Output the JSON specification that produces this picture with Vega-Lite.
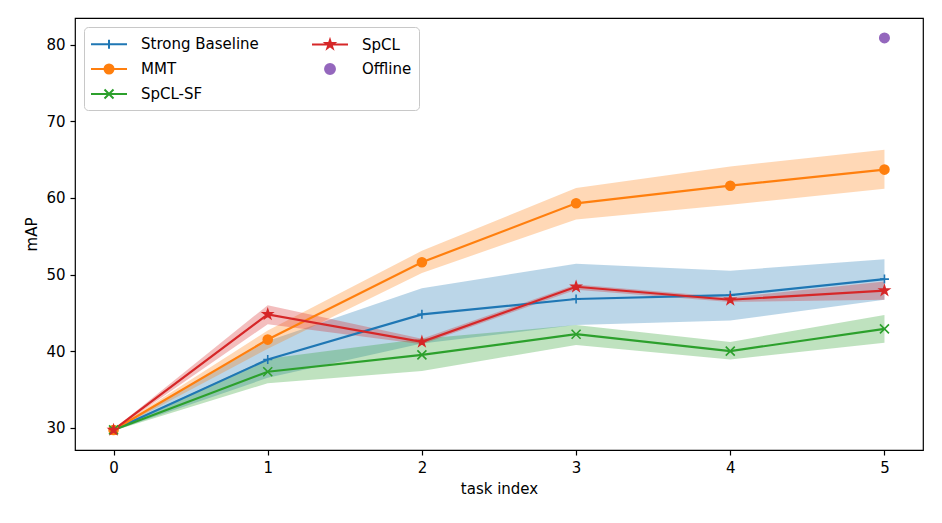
{
  "$schema": "https://vega.github.io/schema/vega-lite/v6.json",
  "autosize": {"type": "none"},
  "padding": {"left": 75, "top": 18, "right": 19, "bottom": 73},
  "width": 848,
  "height": 432,
  "background": "white",
  "config": {
    "font": "DejaVu Sans",
    "view": {"stroke": "black", "strokeWidth": 1.2},
    "axis": {
      "grid": false,
      "domain": false,
      "tickColor": "black",
      "tickSize": 5,
      "tickWidth": 1.2,
      "labelFont": "DejaVu Sans",
      "labelFontSize": 15,
      "labelColor": "black",
      "labelPadding": 5,
      "titleFont": "DejaVu Sans",
      "titleFontSize": 15,
      "titleFontWeight": "normal",
      "titleColor": "black"
    }
  },
  "data": {
    "values": [
      {"series": "Strong Baseline", "x": 0, "y": 29.7, "lo": 29.6, "hi": 29.8},
      {"series": "Strong Baseline", "x": 1, "y": 38.9, "lo": 36.5, "hi": 41.3},
      {"series": "Strong Baseline", "x": 2, "y": 44.8, "lo": 41.0, "hi": 48.2},
      {"series": "Strong Baseline", "x": 3, "y": 46.8, "lo": 43.4, "hi": 51.4},
      {"series": "Strong Baseline", "x": 4, "y": 47.3, "lo": 44.0, "hi": 50.5},
      {"series": "Strong Baseline", "x": 5, "y": 49.4, "lo": 46.7, "hi": 52.0},
      {"series": "MMT", "x": 0, "y": 29.7, "lo": 29.6, "hi": 29.8},
      {"series": "MMT", "x": 1, "y": 41.5, "lo": 40.3, "hi": 42.7},
      {"series": "MMT", "x": 2, "y": 51.6, "lo": 50.2, "hi": 53.1},
      {"series": "MMT", "x": 3, "y": 59.3, "lo": 57.2, "hi": 61.3},
      {"series": "MMT", "x": 4, "y": 61.6, "lo": 59.1, "hi": 64.1},
      {"series": "MMT", "x": 5, "y": 63.7, "lo": 61.2, "hi": 66.3},
      {"series": "SpCL-SF", "x": 0, "y": 29.7, "lo": 29.6, "hi": 29.8},
      {"series": "SpCL-SF", "x": 1, "y": 37.3, "lo": 35.8, "hi": 39.0},
      {"series": "SpCL-SF", "x": 2, "y": 39.5, "lo": 37.4, "hi": 41.6},
      {"series": "SpCL-SF", "x": 3, "y": 42.2, "lo": 40.8, "hi": 43.4},
      {"series": "SpCL-SF", "x": 4, "y": 40.0, "lo": 38.9, "hi": 41.2},
      {"series": "SpCL-SF", "x": 5, "y": 42.9, "lo": 41.1, "hi": 44.7},
      {"series": "SpCL", "x": 0, "y": 29.7, "lo": 29.6, "hi": 29.8},
      {"series": "SpCL", "x": 1, "y": 44.8, "lo": 43.5, "hi": 46.0},
      {"series": "SpCL", "x": 2, "y": 41.2, "lo": 40.9, "hi": 41.6},
      {"series": "SpCL", "x": 3, "y": 48.4, "lo": 48.0, "hi": 48.7},
      {"series": "SpCL", "x": 4, "y": 46.7, "lo": 46.4, "hi": 47.0},
      {"series": "SpCL", "x": 5, "y": 47.9, "lo": 46.7, "hi": 49.1},
      {"series": "Offline", "x": 5, "y": 80.9}
    ]
  },
  "encoding": {
    "x": {
      "field": "x",
      "type": "quantitative",
      "scale": {"domain": [-0.25, 5.25], "nice": false, "zero": false},
      "axis": {"values": [0, 1, 2, 3, 4, 5], "format": "d", "title": "task index", "titlePadding": 6}
    },
    "color": {
      "field": "series",
      "type": "nominal",
      "scale": {
        "domain": ["Strong Baseline", "MMT", "SpCL-SF", "SpCL", "Offline"],
        "range": ["#1f77b4", "#ff7f0e", "#2ca02c", "#d62728", "#9467bd"]
      },
      "legend": {
        "title": null,
        "orient": "top-left",
        "offset": 9,
        "columns": 2,
        "columnPadding": 49,
        "rowPadding": 6,
        "padding": 7,
        "labelFont": "DejaVu Sans",
        "labelFontSize": 15,
        "labelColor": "black",
        "labelOffset": 30,
        "symbolSize": 324,
        "symbolStrokeWidth": 2,
        "symbolOpacity": 1,
        "strokeColor": "#c8c8c8",
        "fillColor": "white",
        "cornerRadius": 4,
        "encode": {
          "symbols": {
            "update": {
              "shape": {"signal": "datum.value === 'Strong Baseline' ? 'M-1.11,0H2.89M0.89,-0.5V0.5' : datum.value === 'MMT' ? 'M-1.11,0H2.89M1.39,0A0.5,0.5,0,1,1,0.39,0A0.5,0.5,0,1,1,1.39,0Z' : datum.value === 'SpCL-SF' ? 'M-1.11,0H2.89M0.39,-0.5L1.39,0.5M0.39,0.5L1.39,-0.5' : datum.value === 'SpCL' ? 'M-1.11,0H2.89M0.89,-0.5L1.0023,-0.1545L1.3656,-0.1545L1.0717,0.059L1.1839,0.4045L0.89,0.191L0.5961,0.4045L0.7083,0.059L0.4144,-0.1545L0.7777,-0.1545Z' : 'M1.44,0A0.55,0.55,0,1,1,0.34,0A0.55,0.55,0,1,1,1.44,0Z'"},
              "stroke": {"signal": "datum.value === 'Strong Baseline' ? '#1f77b4' : datum.value === 'MMT' ? '#ff7f0e' : datum.value === 'SpCL-SF' ? '#2ca02c' : datum.value === 'SpCL' ? '#d62728' : '#9467bd'"},
              "fill": {"signal": "datum.value === 'MMT' ? '#ff7f0e' : datum.value === 'SpCL' ? '#d62728' : datum.value === 'Offline' ? '#9467bd' : 'transparent'"},
              "strokeWidth": {"value": 2},
              "opacity": {"value": 1}
            }
          }
        }
      }
    }
  },
  "layer": [
    {
      "transform": [{"filter": "datum.series !== 'Offline'"}],
      "mark": {"type": "area", "opacity": 0.3},
      "encoding": {
        "y": {
          "field": "lo",
          "type": "quantitative",
          "scale": {"domain": [27.08, 83.5], "nice": false, "zero": false},
          "axis": {"values": [30, 40, 50, 60, 70, 80], "title": "mAP", "titlePadding": 6}
        },
        "y2": {"field": "hi"}
      }
    },
    {
      "transform": [{"filter": "datum.series !== 'Offline'"}],
      "mark": {"type": "line", "strokeWidth": 2.2},
      "encoding": {
        "y": {"field": "y", "type": "quantitative"}
      }
    },
    {
      "mark": {"type": "point", "filled": true, "size": 81, "strokeWidth": 1.6, "opacity": 1},
      "encoding": {
        "y": {"field": "y", "type": "quantitative"},
        "stroke": {
          "field": "series",
          "type": "nominal",
          "scale": {
            "domain": ["Strong Baseline", "SpCL", "MMT", "Offline", "SpCL-SF"],
            "range": ["#1f77b4", "#d62728", "#ff7f0e", "#9467bd", "#2ca02c"]
          },
          "legend": null
        },
        "shape": {
          "field": "series",
          "type": "nominal",
          "scale": {
            "domain": ["Strong Baseline", "SpCL", "MMT", "Offline", "SpCL-SF"],
            "range": [
              "M-1,0H1M0,-1V1",
              "M0,-1.05L0.2357,-0.3245L0.9986,-0.3245L0.3815,0.1239L0.6172,0.8495L0,0.4011L-0.6172,0.8495L-0.3815,0.1239L-0.9986,-0.3245L-0.2357,-0.3245Z",
              "M1,0A1,1,0,1,1,-1,0A1,1,0,1,1,1,0Z",
              "M1.05,0A1.05,1.05,0,1,1,-1.05,0A1.05,1.05,0,1,1,1.05,0Z",
              "M-1,-1L1,1M-1,1L1,-1"
            ]
          },
          "legend": null
        }
      }
    }
  ]
}
